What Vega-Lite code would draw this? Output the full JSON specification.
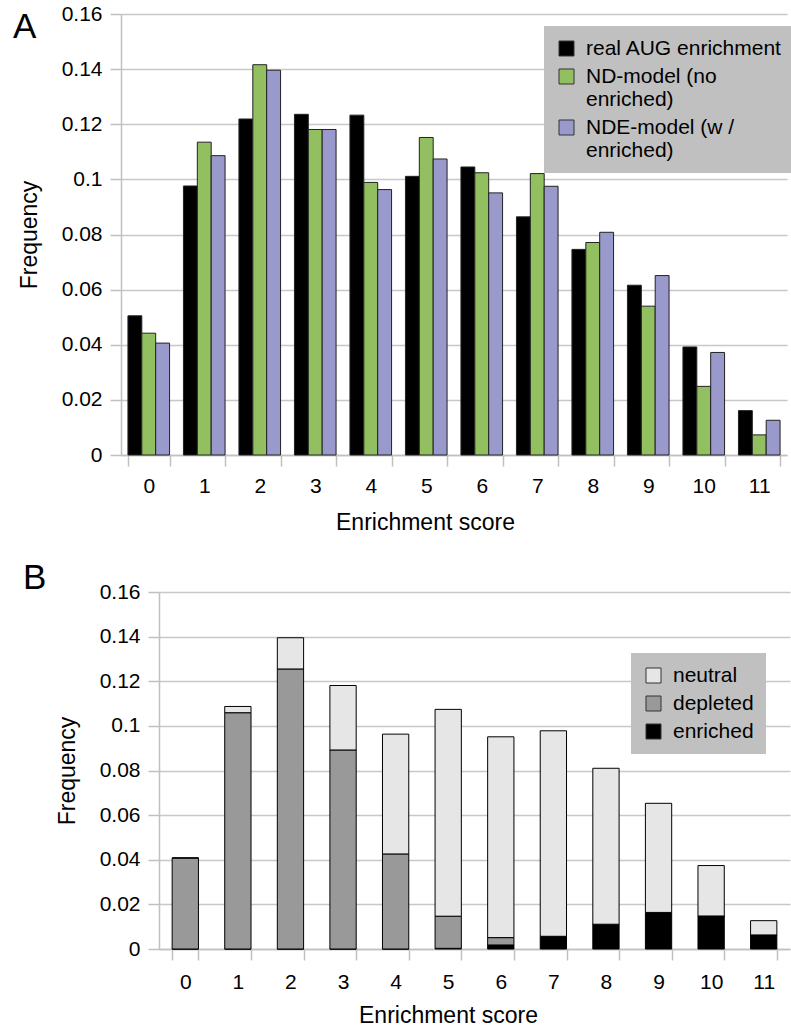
{
  "$schema": "https://vega.github.io/schema/vega-lite/v6.json",
  "padding": {"left": 12, "top": 3, "right": 0, "bottom": 0},
  "spacing": 27,
  "resolve": {"scale": {"color": "independent"}, "legend": {"color": "independent"}},
  "config": {
    "font": "Liberation Sans",
    "view": {"stroke": null},
    "concat": {"spacing": 0},
    "axis": {
      "domainColor": "#c0c0c0", "gridColor": "#c8c8c8", "tickColor": "#c0c0c0",
      "domainWidth": 1.5, "gridWidth": 1.5, "tickWidth": 1.5, "tickSize": 11,
      "labelFontSize": 21, "titleFontSize": 23, "labelColor": "#000", "titleColor": "#000",
      "titleFontWeight": "normal", "labelFont": "Liberation Sans", "titleFont": "Liberation Sans"
    },
    "legend": {
      "fillColor": "#c0c0c0", "padding": 12, "symbolType": "square", "symbolSize": 225,
      "symbolStrokeColor": "#333", "symbolStrokeWidth": 1, "labelFontSize": 21,
      "labelFont": "Liberation Sans", "labelColor": "#000", "labelLimit": 400, "labelOffset": 9, "rowPadding": 6
    },
    "title": {"font": "Liberation Sans", "fontWeight": "normal", "color": "#000"}
  },
  "vconcat": [
    {"spacing": 0, "hconcat": [
    {"width": 1, "height": 1, "data": {"values": [{}]}, "mark": {"type": "point", "opacity": 0, "size": 0}},
    {
      "width": 666,
      "height": 441,
      "title": {"text": "A", "anchor": "start", "frame": "group", "dx": -108, "dy": 70, "offset": 0, "baseline": "alphabetic", "fontSize": 35},
      "data": {"values": [
        {"score": 0, "series": "real AUG enrichment", "freq": 0.0505},
        {"score": 0, "series": "ND-model (no enriched)", "freq": 0.0442},
        {"score": 0, "series": "NDE-model (w / enriched)", "freq": 0.0406},
        {"score": 1, "series": "real AUG enrichment", "freq": 0.0976},
        {"score": 1, "series": "ND-model (no enriched)", "freq": 0.1135},
        {"score": 1, "series": "NDE-model (w / enriched)", "freq": 0.1086},
        {"score": 2, "series": "real AUG enrichment", "freq": 0.1219},
        {"score": 2, "series": "ND-model (no enriched)", "freq": 0.1416},
        {"score": 2, "series": "NDE-model (w / enriched)", "freq": 0.1396},
        {"score": 3, "series": "real AUG enrichment", "freq": 0.1236},
        {"score": 3, "series": "ND-model (no enriched)", "freq": 0.1181},
        {"score": 3, "series": "NDE-model (w / enriched)", "freq": 0.1181},
        {"score": 4, "series": "real AUG enrichment", "freq": 0.1233},
        {"score": 4, "series": "ND-model (no enriched)", "freq": 0.0989},
        {"score": 4, "series": "NDE-model (w / enriched)", "freq": 0.0963},
        {"score": 5, "series": "real AUG enrichment", "freq": 0.1011},
        {"score": 5, "series": "ND-model (no enriched)", "freq": 0.1152},
        {"score": 5, "series": "NDE-model (w / enriched)", "freq": 0.1074},
        {"score": 6, "series": "real AUG enrichment", "freq": 0.1045},
        {"score": 6, "series": "ND-model (no enriched)", "freq": 0.1024},
        {"score": 6, "series": "NDE-model (w / enriched)", "freq": 0.0951},
        {"score": 7, "series": "real AUG enrichment", "freq": 0.0864},
        {"score": 7, "series": "ND-model (no enriched)", "freq": 0.1021},
        {"score": 7, "series": "NDE-model (w / enriched)", "freq": 0.0975},
        {"score": 8, "series": "real AUG enrichment", "freq": 0.0746},
        {"score": 8, "series": "ND-model (no enriched)", "freq": 0.0771},
        {"score": 8, "series": "NDE-model (w / enriched)", "freq": 0.0808},
        {"score": 9, "series": "real AUG enrichment", "freq": 0.0616},
        {"score": 9, "series": "ND-model (no enriched)", "freq": 0.0540},
        {"score": 9, "series": "NDE-model (w / enriched)", "freq": 0.0651},
        {"score": 10, "series": "real AUG enrichment", "freq": 0.0392},
        {"score": 10, "series": "ND-model (no enriched)", "freq": 0.0249},
        {"score": 10, "series": "NDE-model (w / enriched)", "freq": 0.0372},
        {"score": 11, "series": "real AUG enrichment", "freq": 0.0161},
        {"score": 11, "series": "ND-model (no enriched)", "freq": 0.0073},
        {"score": 11, "series": "NDE-model (w / enriched)", "freq": 0.0126}
      ]},
      "mark": {"type": "bar", "stroke": "#222", "strokeWidth": 1},
      "encoding": {
        "x": {"field": "score", "type": "ordinal", "title": "Enrichment score",
          "scale": {"paddingInner": 0.25, "paddingOuter": 0.125},
          "axis": {"labelAngle": 0, "tickBand": "extent", "grid": false, "labelPadding": 9, "titlePadding": 15, "titleX": 304}},
        "xOffset": {"field": "series", "sort": ["real AUG enrichment", "ND-model (no enriched)", "NDE-model (w / enriched)"]},
        "y": {"field": "freq", "type": "quantitative", "title": "Frequency",
          "scale": {"domain": [0, 0.16]},
          "axis": {"values": [0, 0.02, 0.04, 0.06, 0.08, 0.1, 0.12, 0.14, 0.16], "format": "~g", "labelPadding": 8, "titlePadding": 20}},
        "color": {"field": "series", "type": "nominal",
          "scale": {"domain": ["real AUG enrichment", "ND-model (no enriched)", "NDE-model (w / enriched)"], "range": ["#000000", "#92bf5f", "#9999cc"]},
          "legend": {"title": null, "orient": "none", "legendX": 532, "legendY": 12,
            "labelExpr": "datum.label == 'ND-model (no enriched)' ? ['ND-model (no', 'enriched)'] : datum.label == 'NDE-model (w / enriched)' ? ['NDE-model (w /', 'enriched)'] : datum.label"}}
      }
    }
    ]},
    {"spacing": 0, "hconcat": [
    {"width": 11, "height": 1, "data": {"values": [{}]}, "mark": {"type": "point", "opacity": 0, "size": 0}},
    {
      "width": 631,
      "height": 357,
      "title": {"text": "B", "anchor": "start", "frame": "group", "dx": -136, "dy": 43, "offset": 0, "baseline": "alphabetic", "fontSize": 35},
      "data": {"values": [
        {"score": 0, "cat": "enriched", "freq": 0.0},
        {"score": 0, "cat": "depleted", "freq": 0.0408},
        {"score": 0, "cat": "neutral", "freq": 0.0},
        {"score": 1, "cat": "enriched", "freq": 0.0},
        {"score": 1, "cat": "depleted", "freq": 0.1059},
        {"score": 1, "cat": "neutral", "freq": 0.0028},
        {"score": 2, "cat": "enriched", "freq": 0.0},
        {"score": 2, "cat": "depleted", "freq": 0.1255},
        {"score": 2, "cat": "neutral", "freq": 0.0140},
        {"score": 3, "cat": "enriched", "freq": 0.0},
        {"score": 3, "cat": "depleted", "freq": 0.0892},
        {"score": 3, "cat": "neutral", "freq": 0.0289},
        {"score": 4, "cat": "enriched", "freq": 0.0},
        {"score": 4, "cat": "depleted", "freq": 0.0426},
        {"score": 4, "cat": "neutral", "freq": 0.0537},
        {"score": 5, "cat": "enriched", "freq": 0.0003},
        {"score": 5, "cat": "depleted", "freq": 0.0144},
        {"score": 5, "cat": "neutral", "freq": 0.0927},
        {"score": 6, "cat": "enriched", "freq": 0.0018},
        {"score": 6, "cat": "depleted", "freq": 0.0033},
        {"score": 6, "cat": "neutral", "freq": 0.0900},
        {"score": 7, "cat": "enriched", "freq": 0.0057},
        {"score": 7, "cat": "depleted", "freq": 0.0},
        {"score": 7, "cat": "neutral", "freq": 0.0921},
        {"score": 8, "cat": "enriched", "freq": 0.0111},
        {"score": 8, "cat": "depleted", "freq": 0.0},
        {"score": 8, "cat": "neutral", "freq": 0.0699},
        {"score": 9, "cat": "enriched", "freq": 0.0164},
        {"score": 9, "cat": "depleted", "freq": 0.0},
        {"score": 9, "cat": "neutral", "freq": 0.0489},
        {"score": 10, "cat": "enriched", "freq": 0.0148},
        {"score": 10, "cat": "depleted", "freq": 0.0},
        {"score": 10, "cat": "neutral", "freq": 0.0226},
        {"score": 11, "cat": "enriched", "freq": 0.0063},
        {"score": 11, "cat": "depleted", "freq": 0.0},
        {"score": 11, "cat": "neutral", "freq": 0.0064}
      ]},
      "transform": [{"window": [{"op": "row_number", "as": "stack_rank"}]}],
      "mark": {"type": "bar", "stroke": "#000", "strokeWidth": 1},
      "encoding": {
        "x": {"field": "score", "type": "ordinal", "title": "Enrichment score",
          "scale": {"paddingInner": 0.5, "paddingOuter": 0.25},
          "axis": {"labelAngle": 0, "tickBand": "extent", "grid": false, "labelPadding": 11, "titlePadding": 12, "titleX": 289}},
        "y": {"field": "freq", "type": "quantitative", "title": "Frequency", "stack": "zero",
          "scale": {"domain": [0, 0.16]},
          "axis": {"values": [0, 0.02, 0.04, 0.06, 0.08, 0.1, 0.12, 0.14, 0.16], "format": "~g", "labelPadding": 8, "titlePadding": 20}},
        "order": {"field": "stack_rank", "type": "quantitative", "sort": "ascending"},
        "color": {"field": "cat", "type": "nominal",
          "scale": {"domain": ["neutral", "depleted", "enriched"], "range": ["#e6e6e6", "#999999", "#000000"]},
          "legend": {"title": null, "orient": "none", "legendX": 619, "legendY": 61}}
      }
    }
    ]}
  ]
}
